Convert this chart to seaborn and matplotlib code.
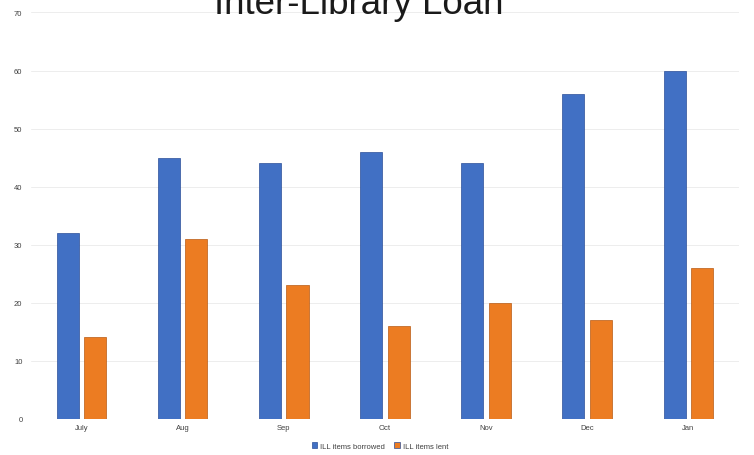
import matplotlib
matplotlib.use("Agg")
import matplotlib.pyplot as plt
import pandas as pd
import seaborn as sns

months = ["July", "Aug", "Sep", "Oct", "Nov", "Dec", "Jan"]
borrowed = [32, 45, 44, 46, 44, 56, 60]
lent = [14, 31, 23, 16, 20, 17, 26]
series_names = ["ILL items borrowed", "ILL items lent"]
y_ticks = [0, 10, 20, 30, 40, 50, 60, 70]
title = "Inter-Library Loan"

df = pd.DataFrame({
    "month": months * 2,
    "series": [series_names[0]] * len(months) + [series_names[1]] * len(months),
    "count": borrowed + lent,
})

sns.set_theme(style="white")
plt.rcParams["font.family"] = ["Liberation Sans", "DejaVu Sans"]

fig = plt.figure(figsize=(7.54, 4.56), dpi=100)
ax = fig.add_axes([0.0408, 0.080, 0.9393, 0.8904])

palette = {series_names[0]: "#4170c4", series_names[1]: "#ec7c22"}
sns.barplot(
    data=df, x="month", y="count", hue="series", order=months,
    hue_order=series_names, palette=palette, width=0.545, gap=0.2,
    saturation=1, edgecolor="#2b4f99", linewidth=0.5, ax=ax, legend=True,
)
# darker outline on the orange bars
for patch in ax.patches[len(months):2 * len(months)]:
    patch.set_edgecolor("#b85a14")

ax.set_xlim(-0.5, len(months) - 0.5)
ax.set_ylim(0, 70)
ax.set_yticks(y_ticks)
ax.set_xlabel("")
ax.set_ylabel("")
ax.yaxis.grid(True, color="#ededed", linewidth=0.7)
ax.set_axisbelow(True)
for s in ax.spines.values():
    s.set_visible(False)
ax.tick_params(axis="both", length=0, labelsize=5.5, colors="#404040")
ax.tick_params(axis="y", pad=6)
ax.tick_params(axis="x", pad=4)

# legend below the axis
handles, labels = ax.get_legend_handles_labels()
ax.get_legend().remove()
fig.legend(handles, labels, loc="center", bbox_to_anchor=(380 / 754, 1 - 447 / 456),
           ncol=2, frameon=False, fontsize=5.5, handlelength=0.7, handleheight=0.7,
           handletextpad=0.4, columnspacing=1.2, labelcolor="#404040")

# large title running off the top edge
fig.text(0.4758, 1 - 14 / 456, title, ha="center", va="baseline",
         fontsize=26.5, color="#1a1a1a")

fig.savefig("out.png", dpi=100, facecolor="white")
